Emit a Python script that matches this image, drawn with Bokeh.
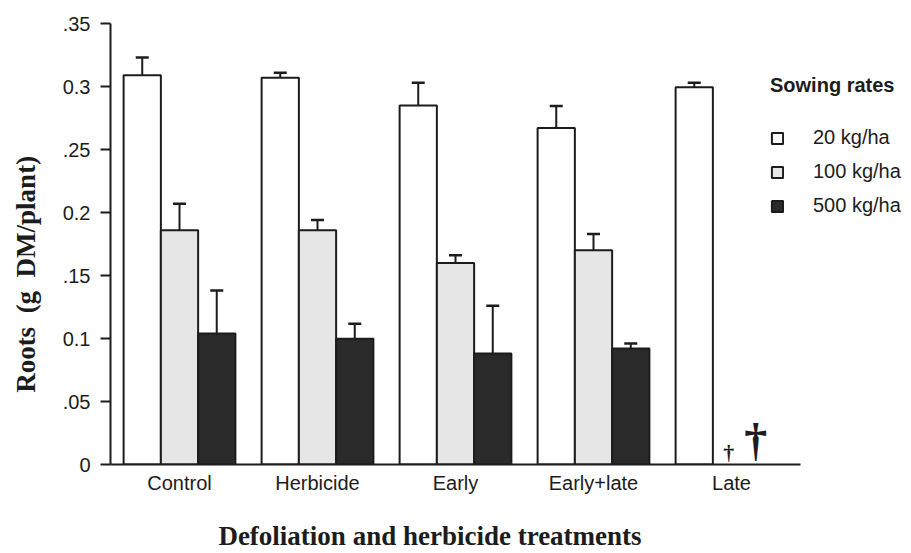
from bokeh.plotting import figure
from bokeh.models import (ColumnDataSource, Range1d, FixedTicker, Whisker, TeeHead,
                          Legend, LegendItem)
from bokeh.core.properties import value
from bokeh.embed import file_html
from bokeh.resources import INLINE

# ---- data ----
treatments = ["Control", "Herbicide", "Early", "Early+late", "Late"]
rates = ["20 kg/ha", "100 kg/ha", "500 kg/ha"]
roots_20 = [0.309, 0.307, 0.285, 0.267, 0.2995]
se_20 = [0.014, 0.004, 0.018, 0.0175, 0.0035]
roots_100 = [0.186, 0.186, 0.160, 0.170, None]
se_100 = [0.021, 0.008, 0.006, 0.013, None]
roots_500 = [0.104, 0.0998, 0.088, 0.092, None]
se_500 = [0.034, 0.012, 0.038, 0.004, None]
dead_treatment = ["Late", "Late"]      # 100 and 500 kg/ha plants dead at Late
dead_mark = ["\u2020", "\u2020"]
y_ticks = [0, 0.05, 0.1, 0.15, 0.2, 0.25, 0.3, 0.35]
y_tick_labels = ["0", ".05", "0.1", ".15", "0.2", ".25", "0.3", ".35"]

SANS = "Liberation Sans"
SERIF = "Liberation Serif"
INK = "#1c1c1c"
NB = "\u00a0"

W, H = 911, 553
LEFT, TOP, BOTTOM = 110, 23, 88
GROUP_PX = 138
frame_w = W - LEFT
x_end = -0.5 + frame_w / GROUP_PX

p = figure(width=W, height=H, x_range=Range1d(-0.5, x_end), y_range=Range1d(0, 0.35),
           output_backend="svg", toolbar_location=None,
           min_border_left=LEFT, min_border_right=0, min_border_top=TOP,
           min_border_bottom=BOTTOM)
p.outline_line_color = None
p.xgrid.grid_line_color = None
p.ygrid.grid_line_color = None

idx = {t: i for i, t in enumerate(treatments)}
bw = 0.27
series = [(roots_20, se_20, "white", -bw), (roots_100, se_100, "#e6e6e6", 0.0),
          (roots_500, se_500, "#2a2a2a", bw)]
items = []
for (vals, ses, col, off), lab in zip(series, rates):
    rows = [(t, v, s) for t, v, s in zip(treatments, vals, ses) if v is not None]
    src = ColumnDataSource(dict(
        x=[idx[t] + off for t, _, _ in rows],
        top=[v for _, v, _ in rows],
        upper=[v + s for _, v, s in rows]))
    r = p.vbar(x="x", top="top", bottom=0, width=bw, source=src,
               fill_color=col, line_color=INK, line_width=2)
    w = Whisker(base="x", lower="top", upper="upper", source=src,
                line_color=INK, line_width=2,
                upper_head=TeeHead(size=13, line_color=INK, line_width=2.5),
                lower_head=None, level="underlay")
    p.add_layout(w)
    items.append(LegendItem(label=lab, renderers=[r]))

# dead-plant markers (small for 100 kg/ha, large for 500 kg/ha)
for t, m, off, size in zip(dead_treatment, dead_mark, [-0.02, 0.175], ["22px", "46px"]):
    src = ColumnDataSource(dict(x=[idx[t] + off], y=[0], t=[m]))
    p.text(x="x", y="y", text="t", source=src, text_font=value(SERIF),
           text_font_size=size, text_font_style="bold", text_align="center",
           text_baseline="bottom", text_color=INK)

# axes
ya = p.yaxis[0]
ya.ticker = FixedTicker(ticks=y_ticks)
ya.major_label_overrides = {t: l for t, l in zip(y_ticks, y_tick_labels)}
ya.major_tick_out = 10
ya.major_tick_in = 0
ya.minor_tick_line_color = None
ya.axis_line_width = 2
ya.major_tick_line_width = 2
ya.axis_line_color = INK
ya.major_tick_line_color = INK
ya.major_label_text_font = SANS
ya.major_label_text_font_size = "20px"
ya.major_label_text_color = INK
ya.major_label_standoff = 10
ya.axis_label = ("Roots" + NB * 2 + "(g" + NB * 2 + "DM/plant)") + NB * 9
ya.axis_label_text_font = SERIF
ya.axis_label_text_font_style = "bold"
ya.axis_label_text_font_size = "27px"
ya.axis_label_text_color = INK
ya.axis_label_standoff = 19

xa = p.xaxis[0]
xa.bounds = (-0.5, len(treatments) - 0.5)
xa.ticker = FixedTicker(ticks=list(range(len(treatments))))
xa.major_label_overrides = {i: t for i, t in enumerate(treatments)}
xa.major_tick_out = 0
xa.major_tick_in = 0
xa.major_tick_line_color = None
xa.minor_tick_line_color = None
xa.axis_line_width = 2
xa.axis_line_color = INK
xa.major_label_text_font = SANS
xa.major_label_text_font_size = "20px"
xa.major_label_text_color = INK
xa.major_label_standoff = 7
xa.axis_label = "Defoliation and herbicide treatments" + NB * 24
xa.axis_label_text_font = SERIF
xa.axis_label_text_font_style = "bold"
xa.axis_label_text_font_size = "27px"
xa.axis_label_text_color = INK
xa.axis_label_standoff = 24

legend = Legend(items=items, location=(660, 247), title="Sowing rates",
                title_text_font=SANS, title_text_font_style="bold",
                title_text_font_size="20px", title_text_color=INK, title_standoff=29,
                label_text_font=SANS, label_text_font_size="20px", label_text_color=INK,
                label_standoff=29, glyph_width=14, glyph_height=14, label_height=20,
                spacing=11, padding=0, margin=0, border_line_color=None,
                background_fill_alpha=0)
p.add_layout(legend, "center")

open("out.html", "w").write(file_html(p, INLINE))
